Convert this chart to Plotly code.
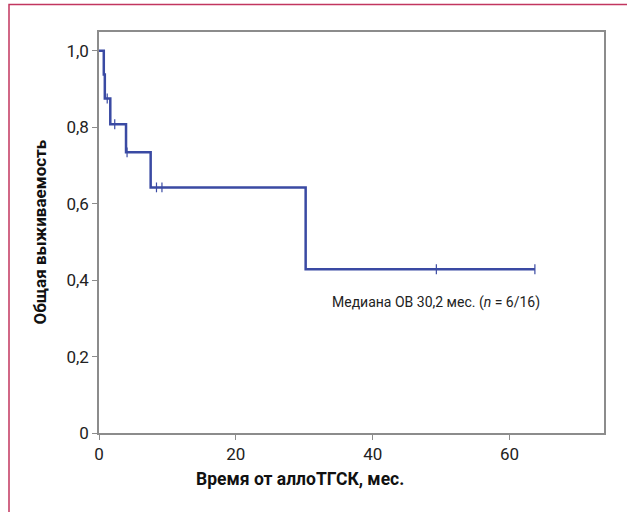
import plotly.graph_objects as go

# Kaplan-Meier step data (months, survival probability)
step_times = [0, 0.7, 0.85, 1.65, 3.95, 7.55, 30.2, 63.7]
step_surv = [1.0, 0.9375, 0.875, 0.8077, 0.7343, 0.6425, 0.4283, 0.4283]

# Censored observations
censor_times = [1.2, 2.3, 4.1, 8.4, 9.2, 49.3, 63.7]
censor_surv = [0.875, 0.8077, 0.7343, 0.6425, 0.6425, 0.4283, 0.4283]

y_ticks = [0, 0.2, 0.4, 0.6, 0.8, 1.0]
y_tick_labels = ["0", "0,2", "0,4", "0,6", "0,8", "1,0"]
x_ticks = [0, 20, 40, 60]
x_tick_labels = ["0", "20", "40", "60"]

curve_color = "#3a4aa3"
font_family = "Roboto"

fig = go.Figure()
fig.add_trace(go.Scatter(
    x=step_times, y=step_surv, mode="lines", line_shape="hv",
    line=dict(color=curve_color, width=2.5), hoverinfo="skip", showlegend=False,
))
fig.add_trace(go.Scatter(
    x=censor_times, y=censor_surv, mode="markers",
    marker=dict(symbol="line-ns", size=7, line=dict(color=curve_color, width=1.2)),
    showlegend=False,
))

axis_common = dict(
    showline=True, linecolor="#8c8c8c", linewidth=1.5, mirror=True,
    ticks="outside", ticklen=5, tickcolor="#8c8c8c", tickwidth=1,
    showgrid=False, zeroline=False,
    tickfont=dict(family=font_family, size=17, color="#222222"),
)

fig.update_layout(
    width=627, height=512,
    margin=dict(l=99, r=23, t=32, b=79),
    paper_bgcolor="white", plot_bgcolor="white",
    xaxis=dict(range=[0, 73.8], tickvals=x_ticks, ticktext=x_tick_labels, **axis_common),
    yaxis=dict(range=[0, 1.049], tickvals=y_ticks, ticktext=y_tick_labels, **axis_common),
    font=dict(family=font_family, color="#222222"),
)

# outer crimson frame
fig.add_shape(type="rect", xref="paper", yref="paper",
              x0=(9 - 99) / 505, x1=1.2, y0=-0.5, y1=(433 - 4.5) / 401,
              line=dict(color="#c2365f", width=1.5), layer="above")

# axis titles
fig.add_annotation(text="<b>Время от аллоТГСК, мес.</b>", xref="paper", yref="paper",
                   x=(300 - 99) / 505, y=(433 - 479) / 401, showarrow=False,
                   xanchor="center", yanchor="middle",
                   font=dict(family=font_family, size=17.5, color="#111111"))
fig.add_annotation(text="<b>Общая выживаемость</b>", xref="paper", yref="paper",
                   x=(39 - 99) / 505, y=0.5, showarrow=False, textangle=-90,
                   xanchor="center", yanchor="middle",
                   font=dict(family=font_family, size=17, color="#111111"))

# median annotation
fig.add_annotation(text="Медиана ОВ 30,2 мес. (<i>n</i> = 6/16)", x=(542 - 99) / 505 * 73.8,
                   y=0.342, xref="x", yref="y", showarrow=False, xanchor="right",
                   yanchor="middle",
                   font=dict(family=font_family, size=14, color="#222222"))

fig.write_html("out.html", config={"displayModeBar": False},
               post_script="document.body.style.margin='0';")
